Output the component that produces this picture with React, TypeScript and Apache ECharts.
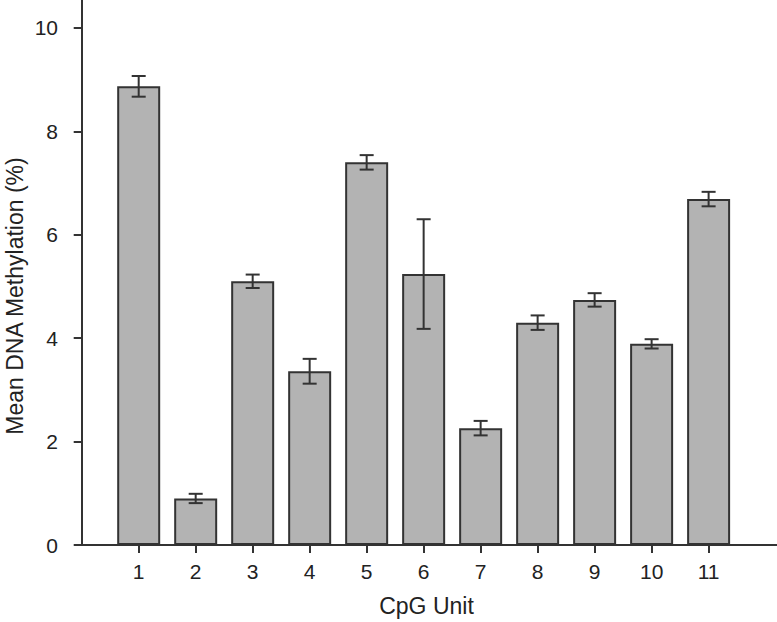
import React, { useEffect, useRef } from "react";
import * as echarts from "echarts";

const cpgUnits = [1, 2, 3, 4, 5, 6, 7, 8, 9, 10, 11];
const meanMethylation = [8.87, 0.9, 5.1, 3.36, 7.4, 5.24, 2.26, 4.3, 4.74, 3.89, 6.69];
const errorValues = [0.2, 0.09, 0.13, 0.24, 0.14, 1.06, 0.14, 0.14, 0.13, 0.09, 0.14];
const yTicks = [0, 2, 4, 6, 8, 10];

const FONT = "'Liberation Sans', Arial, Helvetica, sans-serif";
const AXIS_COLOR = "#333333";

export default function App() {
  const ref = useRef<HTMLDivElement>(null);

  useEffect(() => {
    if (!ref.current) return;
    const chart = echarts.init(ref.current, undefined, { renderer: "svg" });

    const barData = cpgUnits.map((u, i) => [u, meanMethylation[i]]);
    const errData = cpgUnits.map((u, i) => [
      u,
      meanMethylation[i] - errorValues[i],
      meanMethylation[i] + errorValues[i],
    ]);

    chart.setOption({
      animation: false,
      backgroundColor: "#ffffff",
      grid: { left: 76, right: 0, top: 0, bottom: 74, containLabel: false },
      xAxis: {
        type: "value",
        min: -0.1,
        max: 12.2,
        name: "CpG Unit",
        nameLocation: "middle",
        nameGap: 49,
        nameTextStyle: { fontSize: 23, color: "#222", fontFamily: FONT },
        splitLine: { show: false },
        axisLine: { show: true, lineStyle: { color: AXIS_COLOR, width: 2 } },
        axisTick: {
          show: true,
          length: 8,
          customValues: cpgUnits,
          lineStyle: { color: AXIS_COLOR, width: 2 },
        },
        axisLabel: {
          customValues: cpgUnits,
          fontSize: 21,
          color: "#222",
          fontFamily: FONT,
          margin: 16,
        },
      },
      yAxis: {
        type: "value",
        min: 0,
        max: 10.54,
        interval: 2,
        splitLine: { show: false },
        axisLine: { show: true, lineStyle: { color: AXIS_COLOR, width: 2 } },
        axisTick: {
          show: true,
          length: 8,
          customValues: yTicks,
          lineStyle: { color: AXIS_COLOR, width: 2 },
        },
        axisLabel: {
          customValues: yTicks,
          fontSize: 21,
          color: "#222",
          fontFamily: FONT,
          margin: 18,
        },
      },
      graphic: [
        {
          type: "text",
          x: 15,
          y: 296,
          rotation: Math.PI / 2,
          style: {
            text: "Mean DNA Methylation (%)",
            fontSize: 23,
            fontFamily: FONT,
            fill: "#222",
            align: "center",
            verticalAlign: "middle",
          },
        },
      ],
      series: [
        {
          type: "bar",
          data: barData,
          barWidth: 43,
          itemStyle: {
            color: "#b3b3b3",
            borderColor: AXIS_COLOR,
            borderWidth: 2,
          },
          z: 2,
        },
        {
          type: "custom",
          data: errData,
          z: 5,
          renderItem: (params: any, api: any) => {
            const x = api.value(0);
            const lo = api.coord([x, api.value(1)]);
            const hi = api.coord([x, api.value(2)]);
            const hw = 7;
            const style = { stroke: AXIS_COLOR, lineWidth: 2 };
            return {
              type: "group",
              children: [
                { type: "line", shape: { x1: lo[0], y1: lo[1], x2: hi[0], y2: hi[1] }, style },
                { type: "line", shape: { x1: hi[0] - hw, y1: hi[1], x2: hi[0] + hw, y2: hi[1] }, style },
                { type: "line", shape: { x1: lo[0] - hw, y1: lo[1], x2: lo[0] + hw, y2: lo[1] }, style },
              ],
            };
          },
        },
      ],
    });

    return () => chart.dispose();
  }, []);

  return (
    <div
      ref={ref}
      style={{ position: "fixed", left: 0, top: 0, width: 777, height: 622, background: "#fff" }}
    />
  );
}
